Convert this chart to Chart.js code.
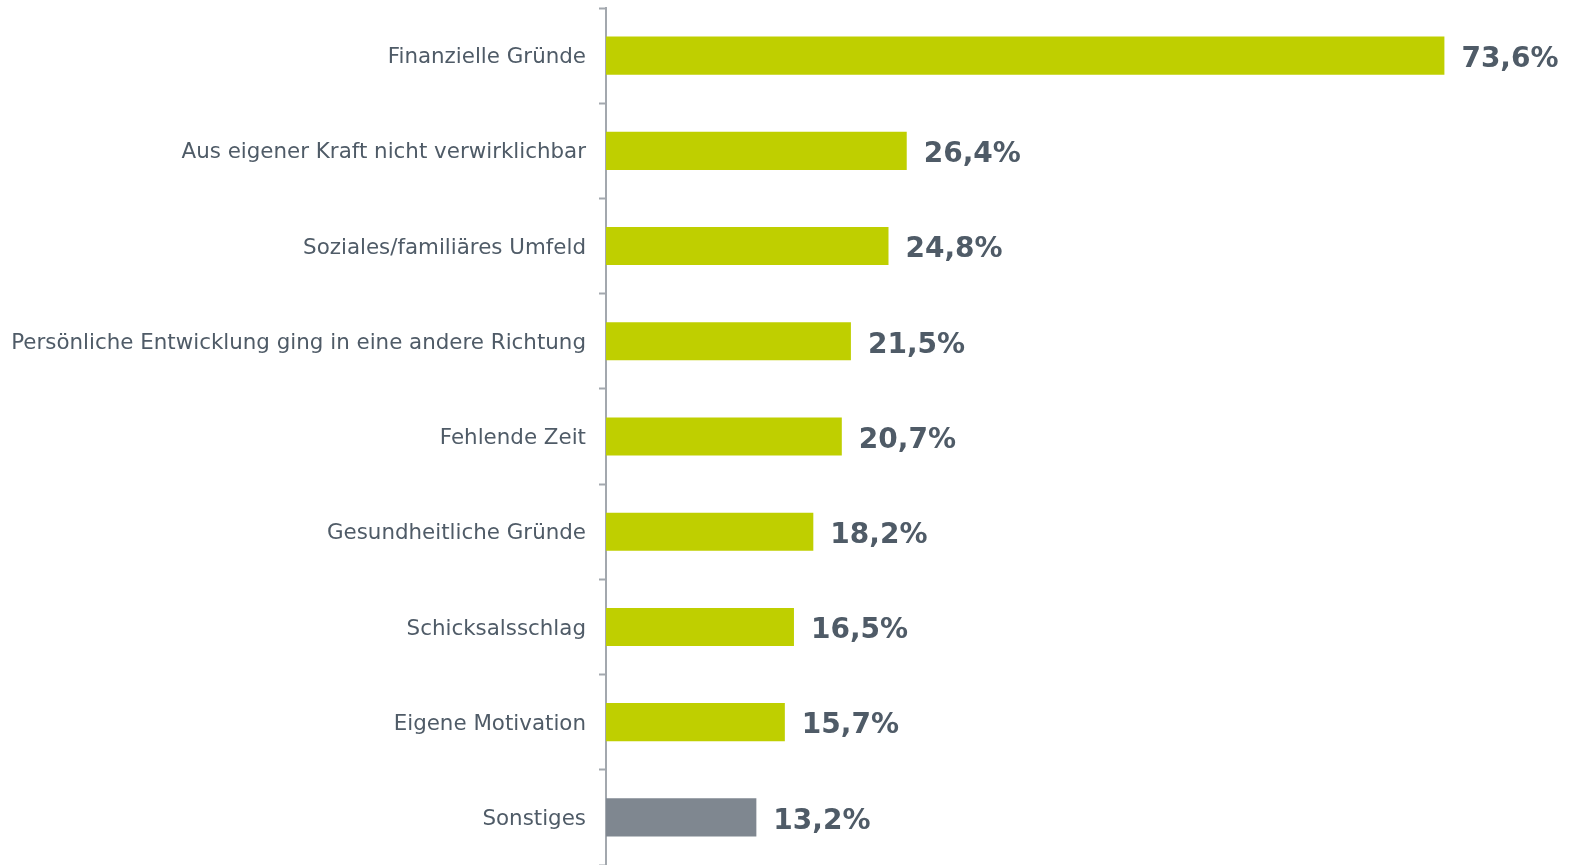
<!DOCTYPE html>
<html>
<head>
<meta charset="utf-8">
<script src="https://cdn.jsdelivr.net/npm/chart.js@4"></script>
<style>
    body { margin: 0; background: #ffffff; }
    #wrap { width: 1574px; height: 865px; }
</style>
</head>
<body>
<div id="wrap"><canvas id="reasonsChart" width="1574" height="865"></canvas></div>
<script>
// Chart data
const categories = [
    'Finanzielle Gründe',
    'Aus eigener Kraft nicht verwirklichbar',
    'Soziales/familiäres Umfeld',
    'Persönliche Entwicklung ging in eine andere Richtung',
    'Fehlende Zeit',
    'Gesundheitliche Gründe',
    'Schicksalsschlag',
    'Eigene Motivation',
    'Sonstiges'
];
const shares = [73.6, 26.4, 24.8, 21.5, 20.7, 18.2, 16.5, 15.7, 13.2];

const colors = {
    green: '#bfcf00',
    gray: '#7f8790',
    text: '#4f5b67',
    axis: '#a3a8ae'
};

const barColors = categories.map(c => c === 'Sonstiges' ? colors.gray : colors.green);

// Draw the percentage next to each bar
const valueLabels = {
    id: 'valueLabels',
    afterDatasetsDraw(chart) {
        const ctx = chart.ctx;
        const meta = chart.getDatasetMeta(0);
        ctx.save();
        ctx.font = 'bold 28px "DejaVu Sans", Verdana, sans-serif';
        ctx.fillStyle = colors.text;
        ctx.textAlign = 'left';
        ctx.textBaseline = 'middle';
        meta.data.forEach((bar, i) => {
            const txt = shares[i].toFixed(1).replace('.', ',') + '%';
            ctx.fillText(txt, bar.x + 17, bar.y + 4);
        });
        ctx.restore();
    }
};

new Chart(document.getElementById('reasonsChart'), {
    type: 'bar',
    data: {
        labels: categories,
        datasets: [{
            data: shares,
            backgroundColor: barColors,
            borderWidth: 0,
            barPercentage: 0.8,
            categoryPercentage: 0.5
        }]
    },
    options: {
        indexAxis: 'y',
        responsive: false,
        animation: false,
        layout: {
            padding: { top: 8, right: 6, bottom: 0, left: 0 }
        },
        plugins: {
            legend: { display: false },
            tooltip: { enabled: false }
        },
        scales: {
            x: {
                display: false,
                min: 0,
                max: 84.45
            },
            y: {
                afterFit(scale) {
                    scale.width = 606;
                    // no extra room above/below for the label halves
                    scale.paddingTop = 0;
                    scale.paddingBottom = 0;
                },
                border: { color: colors.axis, width: 2 },
                grid: {
                    offset: true,
                    drawOnChartArea: false,
                    tickLength: 7,
                    tickWidth: 2,
                    color: colors.axis
                },
                ticks: {
                    padding: 13,
                    labelOffset: 2,
                    color: colors.text,
                    font: { family: '"DejaVu Sans", Verdana, sans-serif', size: 21.4 }
                }
            }
        }
    },
    plugins: [valueLabels]
});
</script>
</body>
</html>
